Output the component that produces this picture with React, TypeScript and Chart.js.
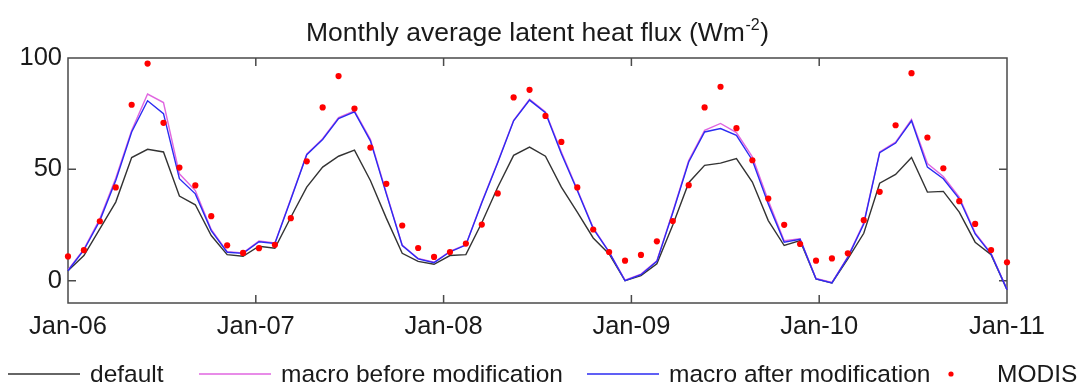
import React, { useEffect, useRef } from 'react';
import { Chart, registerables } from 'chart.js';

Chart.register(...registerables);

const titleMain = 'Monthly average latent heat flux (Wm';
const titleSup = '-2';
const titleClose = ')';

const xTickLabels = ['Jan-06', 'Jan-07', 'Jan-08', 'Jan-09', 'Jan-10', 'Jan-11'];
const yTickValues = [0, 50, 100];

const seriesLabels = ['default', 'macro before modification', 'macro after modification', 'MODIS'];

const defaultSeries = [
  4.5, 11.3, 23.3, 35.3, 55.3, 59.0, 57.8, 38.0, 34.1, 20.3, 11.7, 11.0,
  15.5, 14.6, 28.5, 42.0, 51.0, 55.9, 58.6, 45.0, 28.1, 12.3, 8.7, 7.4,
  11.3, 11.7, 26.0, 42.0, 56.3, 60.0, 55.9, 42.0, 30.8, 19.2, 12.0, 0.0,
  2.3, 7.6, 25.0, 44.0, 51.8, 52.8, 54.8, 44.3, 27.0, 15.8, 18.0, 0.8,
  -1.0, 9.8, 21.3, 43.8, 47.7, 55.3, 39.8, 40.1, 30.8, 17.3, 11.7, -4.0,
];

const beforeSeries = [
  4.8, 14.2, 27.8, 46.0, 67.5, 83.8, 80.0, 48.0, 40.5, 23.0, 13.0, 12.5,
  17.8, 17.0, 36.8, 56.8, 63.8, 73.2, 76.2, 63.5, 39.5, 16.0, 10.0, 8.3,
  13.2, 16.2, 35.3, 53.3, 72.0, 81.5, 75.8, 57.8, 41.0, 23.8, 13.0, 0.3,
  3.0, 9.0, 31.0, 54.0, 67.5, 70.6, 66.5, 55.6, 36.0, 18.0, 18.8, 1.0,
  -0.8, 10.8, 26.0, 57.8, 62.2, 72.4, 52.6, 46.8, 37.5, 21.5, 12.3, -3.8,
];

const afterSeries = [
  4.5, 13.8, 27.0, 45.0, 66.8, 80.8, 75.0, 45.8, 39.0, 22.5, 12.8, 12.3,
  17.5, 16.7, 36.5, 56.6, 63.4, 72.8, 75.8, 62.8, 39.0, 15.8, 9.8, 8.1,
  13.0, 16.0, 35.0, 53.0, 71.8, 81.1, 75.4, 57.0, 40.5, 23.4, 12.8, 0.0,
  2.7, 8.7, 30.5, 53.3, 66.8, 68.3, 65.3, 54.1, 34.5, 17.3, 18.6, 0.8,
  -1.0, 10.5, 25.5, 57.5, 61.8, 71.8, 51.0, 45.8, 36.8, 21.0, 12.0, -4.0,
];

const modisSeries = [
  10.9, 13.7, 26.7, 41.9, 79.0, 97.5, 70.9, 50.8, 42.8, 29.0, 15.9, 12.5,
  14.6, 16.1, 28.1, 53.6, 77.8, 91.9, 77.3, 59.8, 43.5, 24.8, 14.7, 10.7,
  12.9, 16.7, 25.2, 39.2, 82.3, 85.7, 74.0, 62.3, 41.9, 23.0, 12.9, 9.0,
  11.6, 17.7, 26.8, 42.9, 77.8, 87.1, 68.5, 54.1, 36.9, 25.1, 16.5, 9.0,
  10.0, 12.3, 27.2, 39.9, 69.8, 93.2, 64.3, 50.5, 35.7, 25.5, 13.8, 8.3,
];

const FONT = '"Liberation Sans", Arial, Helvetica, sans-serif';

export default function App() {
  const ref = useRef<HTMLCanvasElement>(null);

  useEffect(() => {
    const canvas = ref.current;
    if (!canvas) return;
    const toPoints = (arr: number[]) => arr.map((y, i) => ({ x: i, y }));
    const lastIndex = modisSeries.length - 1;

    const framePlugin = {
      id: 'frameTicks',
      beforeDatasetsDraw(chart: any) {
        const { ctx, chartArea: a, scales } = chart;
        ctx.save();
        ctx.strokeStyle = '#4a4a4a';
        ctx.lineWidth = 1.5;
        ctx.strokeRect(a.left, a.top, a.right - a.left, a.bottom - a.top);
        const len = 8;
        ctx.beginPath();
        scales.x.ticks.forEach((t: any) => {
          const px = scales.x.getPixelForValue(t.value);
          if (px <= a.left + 1 || px >= a.right - 1) return;
          ctx.moveTo(px, a.bottom);
          ctx.lineTo(px, a.bottom - len);
          ctx.moveTo(px, a.top);
          ctx.lineTo(px, a.top + len);
        });
        scales.y.ticks.forEach((t: any) => {
          const py = scales.y.getPixelForValue(t.value);
          if (py <= a.top + 1 || py >= a.bottom - 1) return;
          ctx.moveTo(a.left, py);
          ctx.lineTo(a.left + len, py);
          ctx.moveTo(a.right, py);
          ctx.lineTo(a.right - len, py);
        });
        ctx.stroke();
        ctx.restore();
      },
    };

    const titlePlugin = {
      id: 'supTitle',
      afterDraw(chart: any) {
        const { ctx, chartArea: a } = chart;
        ctx.save();
        ctx.fillStyle = '#1a1a1a';
        ctx.textBaseline = 'alphabetic';
        ctx.textAlign = 'left';
        const big = `26.5px ${FONT}`;
        const small = `16px ${FONT}`;
        ctx.font = big;
        const w1 = ctx.measureText(titleMain).width;
        const w3 = ctx.measureText(titleClose).width;
        ctx.font = small;
        const w2 = ctx.measureText(titleSup).width;
        const total = w1 + w2 + w3 + 1;
        const cx = (a.left + a.right) / 2;
        let x = cx - total / 2;
        const base = 41;
        ctx.font = big;
        ctx.fillText(titleMain, x, base);
        x += w1 + 0.5;
        ctx.font = small;
        ctx.fillText(titleSup, x, base - 11);
        x += w2 + 0.5;
        ctx.font = big;
        ctx.fillText(titleClose, x, base);
        ctx.restore();
      },
    };

    const legendPlugin = {
      id: 'customLegend',
      afterDraw(chart: any) {
        const { ctx } = chart;
        const slots = [8, 199, 587, 915];
        const boxW = 72;
        const gap = 10;
        const y = 374;
        ctx.save();
        ctx.font = `24.5px ${FONT}`;
        ctx.textBaseline = 'middle';
        ctx.textAlign = 'left';
        chart.data.datasets.forEach((ds: any, i: number) => {
          const x0 = slots[i];
          if (ds.showLine === false) {
            ctx.fillStyle = ds.pointBackgroundColor;
            ctx.beginPath();
            ctx.arc(x0 + boxW / 2, y, 2.6, 0, Math.PI * 2);
            ctx.fill();
          } else {
            ctx.strokeStyle = ds.borderColor;
            ctx.lineWidth = 1.3;
            ctx.beginPath();
            ctx.moveTo(x0, y);
            ctx.lineTo(x0 + boxW, y);
            ctx.stroke();
          }
          ctx.fillStyle = '#1a1a1a';
          ctx.fillText(ds.label, x0 + boxW + gap, y + 1);
        });
        ctx.restore();
      },
    };

    const chart = new Chart(canvas, {
      type: 'line',
      data: {
        datasets: [
          {
            label: seriesLabels[0],
            data: toPoints(defaultSeries),
            borderColor: '#333333',
            borderWidth: 1.4,
            pointRadius: 0,
            tension: 0,
            order: 3,
            clip: false,
          },
          {
            label: seriesLabels[1],
            data: toPoints(beforeSeries),
            borderColor: '#e066e0',
            borderWidth: 1.4,
            pointRadius: 0,
            tension: 0,
            order: 2,
            clip: false,
          },
          {
            label: seriesLabels[2],
            data: toPoints(afterSeries),
            borderColor: '#2b2bf2',
            borderWidth: 1.4,
            pointRadius: 0,
            tension: 0,
            order: 1,
            clip: false,
          },
          {
            label: seriesLabels[3],
            data: toPoints(modisSeries),
            showLine: false,
            borderColor: '#ff0000',
            pointBackgroundColor: '#ff0000',
            pointBorderWidth: 0,
            pointRadius: 3.1,
            order: 0,
            clip: false,
          },
        ] as any,
      },
      options: {
        animation: false,
        responsive: true,
        maintainAspectRatio: false,
        layout: { padding: { left: 0, right: 73, top: 58, bottom: 46 } },
        plugins: {
          legend: { display: false },
          title: { display: false },
          tooltip: { enabled: false },
        },
        scales: {
          x: {
            type: 'linear',
            min: 0,
            max: lastIndex,
            grid: { display: false, drawTicks: false },
            border: { display: false },
            afterBuildTicks: (scale: any) => {
              scale.ticks = xTickLabels.map((_, k) => ({
                value: (k * lastIndex) / (xTickLabels.length - 1),
              }));
            },
            afterFit: (scale: any) => {
              scale.height = 40;
            },
            ticks: {
              autoSkip: false,
              maxRotation: 0,
              padding: 9,
              color: '#1a1a1a',
              font: { family: FONT, size: 25.5 },
              callback: (_v: any, idx: number) => xTickLabels[idx],
            },
          },
          y: {
            type: 'linear',
            min: -10,
            max: 100,
            grid: { display: false, drawTicks: false },
            border: { display: false },
            afterBuildTicks: (scale: any) => {
              scale.ticks = yTickValues.map((v) => ({ value: v }));
            },
            afterFit: (scale: any) => {
              scale.width = 68;
            },
            ticks: {
              padding: 6,
              color: '#1a1a1a',
              font: { family: FONT, size: 25.5 },
              callback: (v: any) => String(v),
            },
          },
        },
      },
      plugins: [framePlugin, titlePlugin, legendPlugin],
    });

    return () => chart.destroy();
  }, []);

  return (
    <div style={{ position: 'fixed', left: 0, top: 0, width: 1080, height: 389, background: '#ffffff' }}>
      <canvas ref={ref} />
    </div>
  );
}
